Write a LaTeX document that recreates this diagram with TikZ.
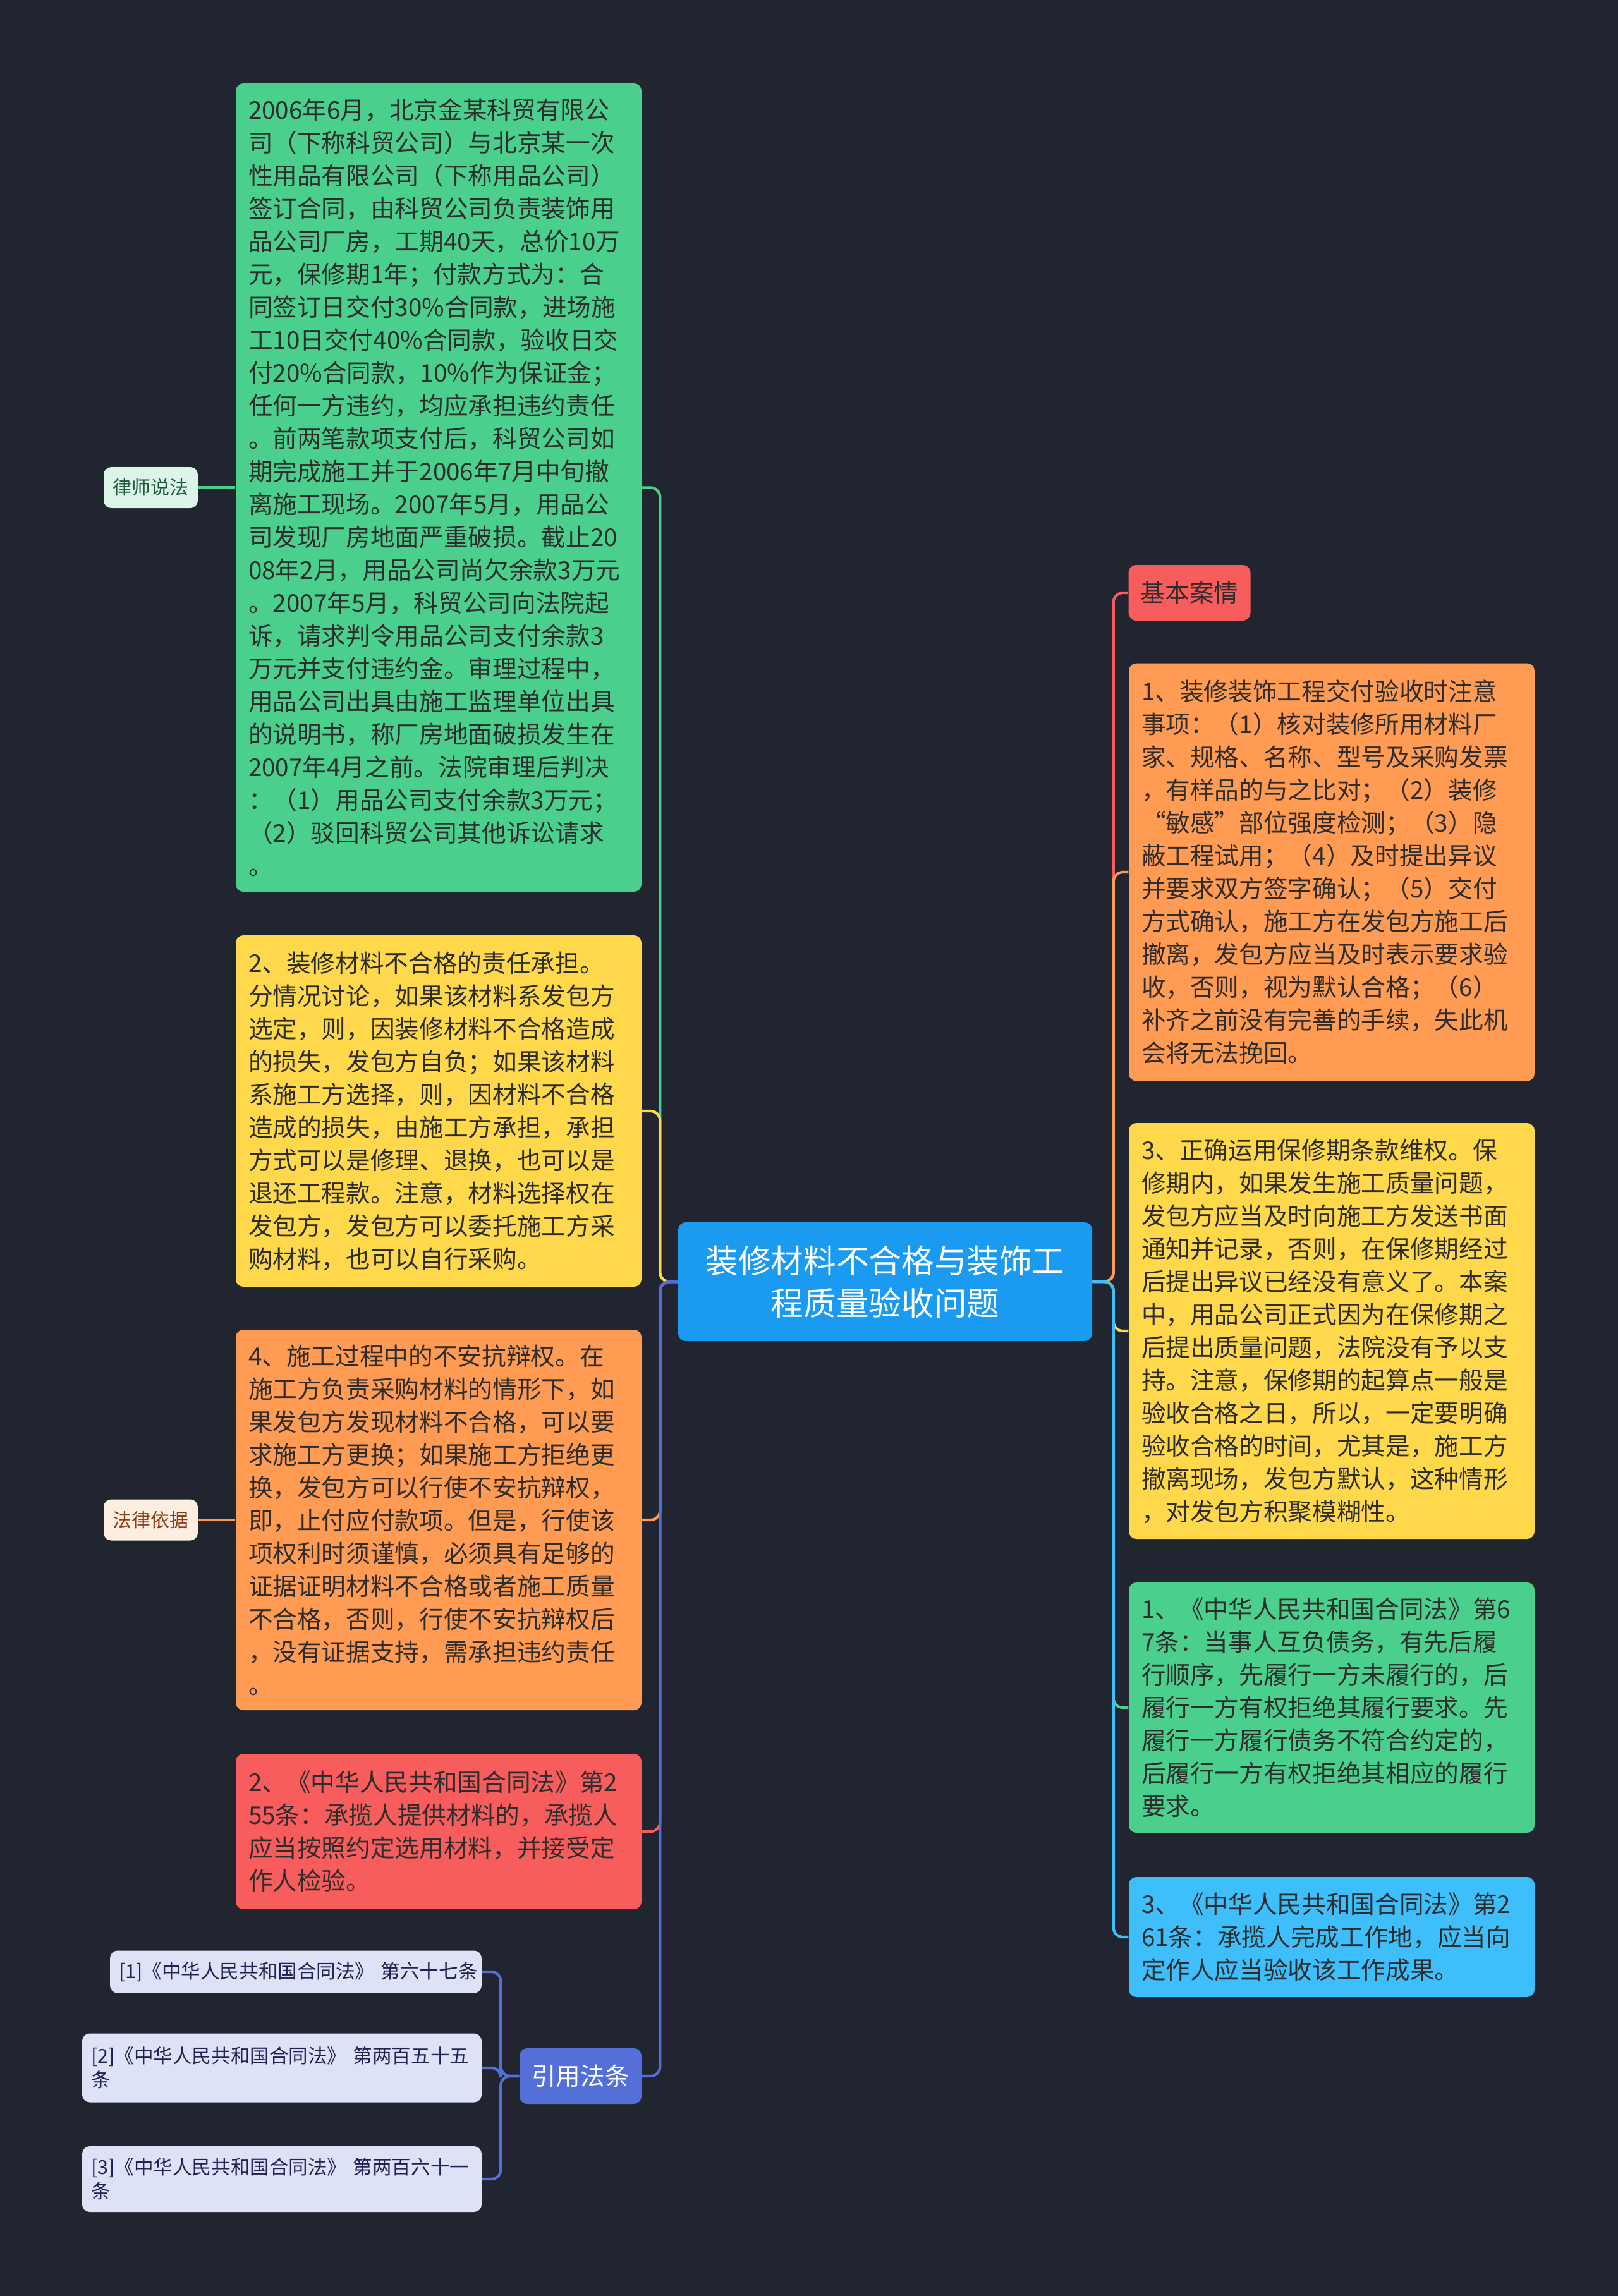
\documentclass[tikz,border=0pt]{standalone}
\usepackage{fontspec}
\newfontfamily\cjk{Noto Sans CJK SC}
\usepackage{tikz}
\usetikzlibrary{positioning}
\usepackage{xcolor}
\definecolor{mbg}{RGB}{33,37,48}
\definecolor{mgreen}{RGB}{75,207,141}
\definecolor{myellow}{RGB}{255,216,75}
\definecolor{morange}{RGB}{255,155,82}
\definecolor{mred}{RGB}{248,93,94}
\definecolor{mblue}{RGB}{26,154,240}
\definecolor{mcyan}{RGB}{62,190,250}
\definecolor{mindigo}{RGB}{84,112,216}
\definecolor{mtext}{RGB}{45,45,45}
\definecolor{mlav}{RGB}{221,226,246}
\definecolor{mnavy}{RGB}{30,35,82}
\definecolor{mmint}{RGB}{220,245,232}
\definecolor{mdkgreen}{RGB}{30,90,58}
\definecolor{mpeach}{RGB}{253,238,226}
\definecolor{mbrown}{RGB}{140,60,20}

\tikzset{
  card/.style={rounded corners=0.12cm, text width=6.02cm, inner xsep=0.2cm, inner ysep=0pt,
    align=left, text=mtext, font=\cjk\fontsize{11}{14.8}\selectfont},
  tagbox/.style={rounded corners=0.12cm, inner sep=0pt, align=center,
    font=\cjk\fontsize{11}{14}\selectfont, minimum width=1.93cm, minimum height=0.88cm},
  labelbox/.style={rounded corners=0.12cm, inner sep=0pt, align=center,
    font=\cjk\fontsize{8.5}{10}\selectfont, minimum width=1.49cm, minimum height=0.65cm},
  refbox/.style={fill=mlav, text=mnavy, rounded corners=0.12cm, inner xsep=0.14cm, inner ysep=0pt,
    align=left, font=\cjk\fontsize{8.7}{10.8}\selectfont},
  link/.style={line width=1.2pt, rounded corners=0.15cm},
}

\begin{document}
\begin{tikzpicture}
  \useasboundingbox (0,0) rectangle (25.6,-36.33);
  \fill[mbg] (0,0) rectangle (25.6,-36.33);
  % Root
  \node[fill=mblue, text=white, rounded corners=0.12cm, minimum width=6.55cm, minimum height=1.88cm,
    align=center, font=\cjk\fontsize{14.7}{19}\selectfont] (root) at (14.005,-20.28)
    {装修材料不合格与装饰工\\程质量验收问题};
  % Left branches
  \node[card, fill=mgreen, minimum height=12.79cm] (case) at (6.94,-7.715) {%
2006年6月，北京金某科贸有限公\\
司（下称科贸公司）与北京某一次\\
性用品有限公司（下称用品公司）\\
签订合同，由科贸公司负责装饰用\\
品公司厂房，工期40天，总价10万\\
元，保修期1年；付款方式为：合\\
同签订日交付30\%合同款，进场施\\
工10日交付40\%合同款，验收日交\\
付20\%合同款，10\%作为保证金；\\
任何一方违约，均应承担违约责任\\
。前两笔款项支付后，科贸公司如\\
期完成施工并于2006年7月中旬撤\\
离施工现场。2007年5月，用品公\\
司发现厂房地面严重破损。截止20\\
08年2月，用品公司尚欠余款3万元\\
。2007年5月，科贸公司向法院起\\
诉，请求判令用品公司支付余款3\\
万元并支付违约金。审理过程中，\\
用品公司出具由施工监理单位出具\\
的说明书，称厂房地面破损发生在\\
2007年4月之前。法院审理后判决\\
：（1）用品公司支付余款3万元；\\
（2）驳回科贸公司其他诉讼请求\\
。};
  \node[card, fill=myellow, minimum height=5.56cm] (resp) at (6.94,-17.58) {%
2、装修材料不合格的责任承担。\\
分情况讨论，如果该材料系发包方\\
选定，则，因装修材料不合格造成\\
的损失，发包方自负；如果该材料\\
系施工方选择，则，因材料不合格\\
造成的损失，由施工方承担，承担\\
方式可以是修理、退换，也可以是\\
退还工程款。注意，材料选择权在\\
发包方，发包方可以委托施工方采\\
购材料，也可以自行采购。};
  \node[card, fill=morange, minimum height=6.02cm] (defense) at (6.94,-24.05) {%
4、施工过程中的不安抗辩权。在\\
施工方负责采购材料的情形下，如\\
果发包方发现材料不合格，可以要\\
求施工方更换；如果施工方拒绝更\\
换，发包方可以行使不安抗辩权，\\
即，止付应付款项。但是，行使该\\
项权利时须谨慎，必须具有足够的\\
证据证明材料不合格或者施工质量\\
不合格，否则，行使不安抗辩权后\\
，没有证据支持，需承担违约责任\\
。};
  \node[card, fill=mred, minimum height=2.46cm] (art255) at (6.94,-28.98) {%
2、《中华人民共和国合同法》第2\\
55条：承揽人提供材料的，承揽人\\
应当按照约定选用材料，并接受定\\
作人检验。};
  \node[labelbox, fill=mmint, text=mdkgreen] (lawyer) at (2.385,-7.715) {律师说法};
  \node[labelbox, fill=mpeach, text=mbrown] (basis) at (2.385,-24.05) {法律依据};
  \node[tagbox, fill=mindigo, text=white] (cite) at (9.185,-32.85) {引用法条};
  \node[refbox, text width=5.60cm, minimum height=0.67cm] (ref1) at (4.68,-31.20)
    {[1]《中华人民共和国合同法》~第六十七条};
  \node[refbox, text width=6.04cm, minimum height=1.09cm] (ref2) at (4.46,-32.72)
    {[2]《中华人民共和国合同法》~第两百五十五\\条};
  \node[refbox, text width=6.04cm, minimum height=1.04cm] (ref3) at (4.46,-34.48)
    {[3]《中华人民共和国合同法》~第两百六十一\\条};
  % Right branches
  \node[tagbox, fill=mred, text=mtext] (facts) at (18.82,-9.38) {基本案情};
  \node[card, fill=morange, minimum height=6.61cm] (accept) at (21.07,-13.80) {%
1、装修装饰工程交付验收时注意\\
事项：（1）核对装修所用材料厂\\
家、规格、名称、型号及采购发票\\
，有样品的与之比对；（2）装修\\
“敏感”部位强度检测；（3）隐\\
蔽工程试用；（4）及时提出异议\\
并要求双方签字确认；（5）交付\\
方式确认，施工方在发包方施工后\\
撤离，发包方应当及时表示要求验\\
收，否则，视为默认合格；（6）\\
补齐之前没有完善的手续，失此机\\
会将无法挽回。};
  \node[card, fill=myellow, minimum height=6.58cm] (warranty) at (21.07,-21.06) {%
3、正确运用保修期条款维权。保\\
修期内，如果发生施工质量问题，\\
发包方应当及时向施工方发送书面\\
通知并记录，否则，在保修期经过\\
后提出异议已经没有意义了。本案\\
中，用品公司正式因为在保修期之\\
后提出质量问题，法院没有予以支\\
持。注意，保修期的起算点一般是\\
验收合格之日，所以，一定要明确\\
验收合格的时间，尤其是，施工方\\
撤离现场，发包方默认，这种情形\\
，对发包方积聚模糊性。};
  \node[card, fill=mgreen, minimum height=3.96cm] (art67) at (21.07,-27.02) {%
1、《中华人民共和国合同法》第6\\
7条：当事人互负债务，有先后履\\
行顺序，先履行一方未履行的，后\\
履行一方有权拒绝其履行要求。先\\
履行一方履行债务不符合约定的，\\
后履行一方有权拒绝其相应的履行\\
要求。};
  \node[card, fill=mcyan, minimum height=1.90cm] (art261) at (21.07,-30.65) {%
3、《中华人民共和国合同法》第2\\
61条：承揽人完成工作地，应当向\\
定作人应当验收该工作成果。};
  % Connectors, left
  \draw[link, mgreen] (root.west) -- ++(-0.28,0) |- (case.east);
  \draw[link, myellow] (root.west) -- ++(-0.28,0) |- (resp.east);
  \draw[link, morange] (root.west) -- ++(-0.28,0) |- (defense.east);
  \draw[link, mred] (root.west) -- ++(-0.28,0) |- (art255.east);
  \draw[link, mindigo] (root.west) -- ++(-0.28,0) |- (cite.east);
  \draw[link, mgreen] (case.west) -- (lawyer.east);
  \draw[link, morange] (defense.west) -- (basis.east);
  \draw[link, mindigo] (cite.west) -- ++(-0.29,0) |- (ref1.east);
  \draw[link, mindigo] (cite.west) -- ++(-0.29,0) |- (ref2.east);
  \draw[link, mindigo] (cite.west) -- ++(-0.29,0) |- (ref3.east);
  % Connectors, right
  \draw[link, mred] (root.east) -- ++(0.33,0) |- (facts.west);
  \draw[link, morange] (root.east) -- ++(0.33,0) |- (accept.west);
  \draw[link, myellow] (root.east) -- ++(0.33,0) |- (warranty.west);
  \draw[link, mgreen] (root.east) -- ++(0.33,0) |- (art67.west);
  \draw[link, mcyan] (root.east) -- ++(0.33,0) |- (art261.west);
\end{tikzpicture}
\end{document}
